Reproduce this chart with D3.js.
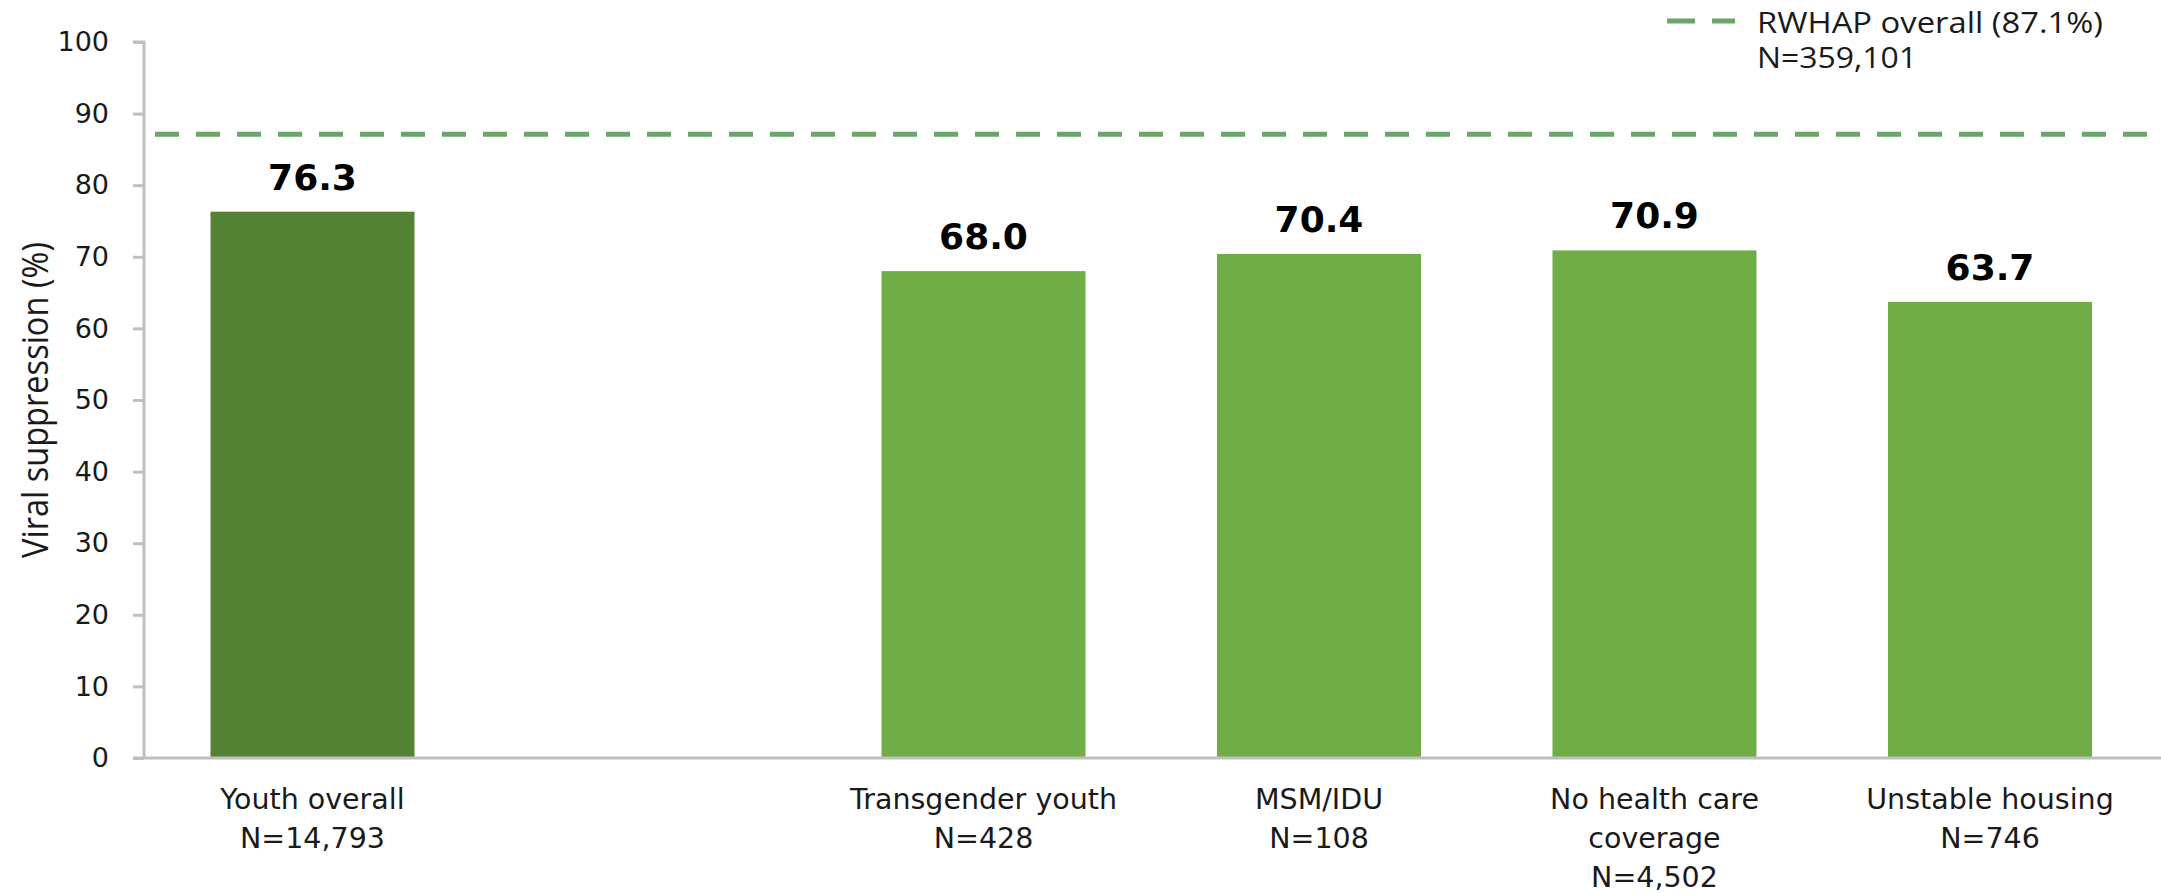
<!DOCTYPE html>
<html>
<head>
<meta charset="utf-8">
<script src="https://cdn.jsdelivr.net/npm/d3@7"></script>
<style>
  html, body { margin: 0; padding: 0; background: #ffffff; }
  svg { display: block; }
</style>
</head>
<body>
<svg id="chart" width="2161" height="893"></svg>
<script>
// Viral suppression among youth, by subgroup
const categories = ["Youth overall", "gap", "Transgender youth", "MSM/IDU", "No health care coverage", "Unstable housing"];
const values = [76.3, null, 68.0, 70.4, 70.9, 63.7];
const categoryLines = [
  ["Youth overall", "N=14,793"],
  [],
  ["Transgender youth", "N=428"],
  ["MSM/IDU", "N=108"],
  ["No health care", "coverage", "N=4,502"],
  ["Unstable housing", "N=746"]
];
const barColors = ["#548235", null, "#70ad47", "#70ad47", "#70ad47", "#70ad47"];
const yTicks = [0, 10, 20, 30, 40, 50, 60, 70, 80, 90, 100];
const referenceValue = 87.1;
const legendLines = ["RWHAP overall (87.1%)", "N=359,101"];
const yTitle = "Viral suppression (%)";

const svg = d3.select("#chart");
const axisColor = "#bfbfbf";
const refColor = "#6aa66a";
const textColor = "#1a1a1a";
const sans = "'DejaVu Sans', Verdana, sans-serif";

const x = d3.scaleBand()
  .domain(categories)
  .range([144.75, 2157.75])
  .paddingInner(0.392)
  .paddingOuter(0.196);

const y = d3.scaleLinear().domain([0, 100]).range([758, 42]);

// Bars
const rows = categories.map((c, i) => ({ c, v: values[i], color: barColors[i], lines: categoryLines[i] }));
svg.append("g").selectAll("rect")
  .data(rows.filter(d => d.v !== null))
  .join("rect")
  .attr("x", d => x(d.c))
  .attr("width", x.bandwidth())
  .attr("y", d => y(d.v))
  .attr("height", d => y(0) - y(d.v))
  .attr("fill", d => d.color);

// Value labels
svg.append("g").selectAll("text")
  .data(rows.filter(d => d.v !== null))
  .join("text")
  .attr("x", d => x(d.c) + x.bandwidth() / 2)
  .attr("y", d => y(d.v) - 22)
  .attr("text-anchor", "middle")
  .attr("font-family", sans)
  .attr("font-weight", "bold")
  .attr("font-size", 36)
  .attr("fill", "#000")
  .text(d => d.v.toFixed(1));

// Y axis
const yAxis = d3.axisLeft(y).tickValues(yTicks).tickSize(11).tickPadding(24).tickFormat(d3.format("d"));
const yG = svg.append("g").attr("transform", "translate(144,0)").call(yAxis);
yG.select(".domain").attr("stroke", axisColor).attr("stroke-width", 3).attr("d", "M-11,42H0V758");
yG.selectAll(".tick line").attr("stroke", axisColor).attr("stroke-width", 3);
yG.selectAll(".tick text")
  .attr("font-family", sans)
  .attr("font-size", 27)
  .attr("fill", textColor);

// X axis baseline
const xAxis = d3.axisBottom(x).tickSize(0).tickFormat("");
const xG = svg.append("g").attr("transform", `translate(0,${y(0)})`).call(xAxis);
xG.select(".domain").attr("stroke", axisColor).attr("stroke-width", 3).attr("d", "M133,0H2161");

// Category labels
const catG = svg.append("g");
rows.forEach(d => {
  d.lines.forEach((line, j) => {
    catG.append("text")
      .attr("x", x(d.c) + x.bandwidth() / 2)
      .attr("y", 809 + j * 39)
      .attr("text-anchor", "middle")
      .attr("font-family", sans)
      .attr("font-size", 28.5)
      .attr("fill", textColor)
      .text(line);
  });
});

// Reference line
svg.append("line")
  .attr("x1", 155).attr("x2", 2161)
  .attr("y1", y(referenceValue)).attr("y2", y(referenceValue))
  .attr("stroke", refColor)
  .attr("stroke-width", 5)
  .attr("stroke-dasharray", "24,17");

// Legend
svg.append("line")
  .attr("x1", 1667).attr("x2", 1735)
  .attr("y1", 21).attr("y2", 21)
  .attr("stroke", refColor)
  .attr("stroke-width", 5)
  .attr("stroke-dasharray", "28,17");
const legendWidths = [346, 160];
legendLines.forEach((t, i) => {
  svg.append("text")
    .attr("x", 1757)
    .attr("y", 33 + i * 35)
    .attr("font-family", "'Open Sans', sans-serif")
    .attr("font-size", 29)
    .attr("fill", textColor)
    .attr("textLength", legendWidths[i])
    .attr("lengthAdjust", "spacingAndGlyphs")
    .text(t);
});

// Y axis title
svg.append("text")
  .attr("transform", "translate(48,400) rotate(-90)")
  .attr("text-anchor", "middle")
  .attr("font-family", "'Open Sans', sans-serif")
  .attr("font-size", 36)
  .attr("fill", textColor)
  .attr("textLength", 316)
  .attr("lengthAdjust", "spacingAndGlyphs")
  .text(yTitle);
</script>
</body>
</html>
